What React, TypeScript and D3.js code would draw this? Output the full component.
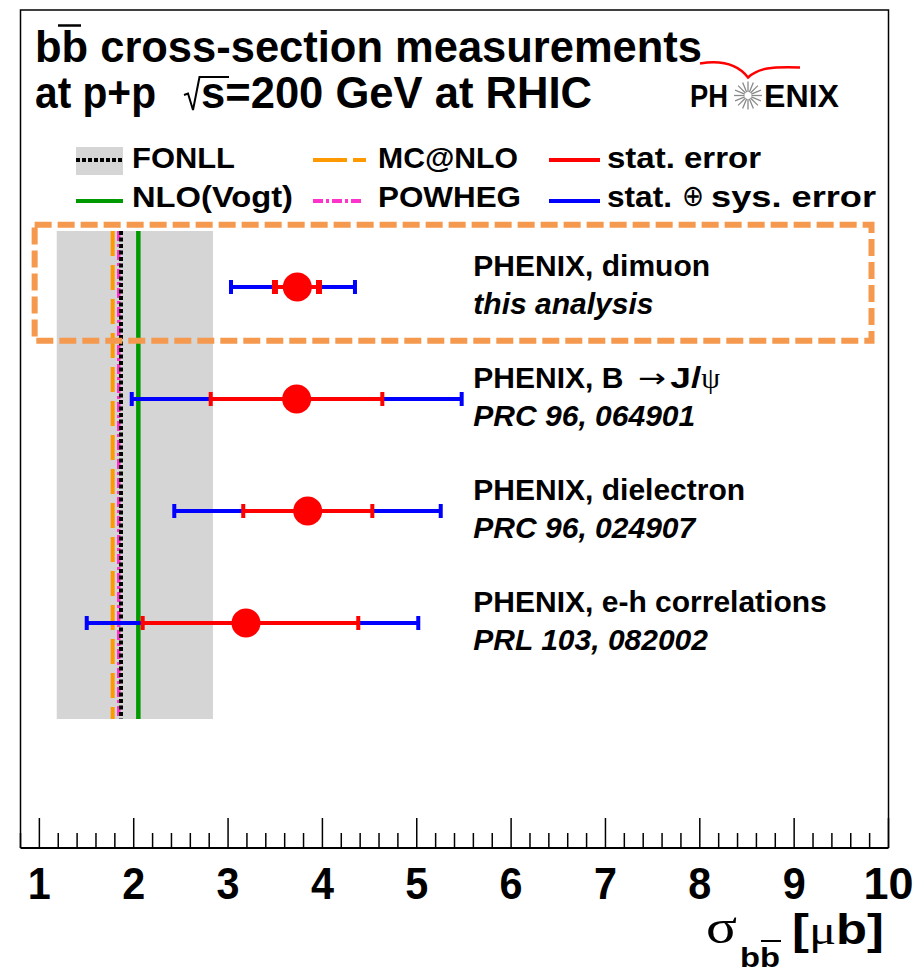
import React from "react";
import * as d3 from "d3";

// ---------- data ----------
const measLabels = ["PHENIX, dimuon", "PHENIX, B → J/ψ", "PHENIX, dielectron", "PHENIX, e-h correlations"];
const measRefs = ["this analysis", "PRC 96, 064901", "PRC 96, 024907", "PRL 103, 082002"];
const central = [3.734, 3.727, 3.844, 3.19];
const statLo = [3.497, 2.816, 3.161, 2.095];
const statHi = [3.964, 4.635, 4.529, 4.38];
const totLo = [3.031, 1.979, 2.43, 1.502];
const totHi = [4.345, 5.476, 5.254, 5.016];

const fonllBand = [1.184, 2.84];
const fonllCentral = 1.865;
const mcatnlo = 1.777;
const powheg = 1.841;
const nloVogt = 2.049;

const xTickValues = d3.range(4, 51).map((i) => i / 5);
const xMajorLabels = ["1", "2", "3", "4", "5", "6", "7", "8", "9", "10"];

// ---------- layout ----------
const W = 923;
const H = 973;
const frame = { left: 20.5, right: 888.5, top: 10, bottom: 848 };
const x = d3.scaleLinear().domain([0.8, 10]).range([frame.left, frame.right]);
const y = d3.scaleLinear().domain([0, 3]).range([287, 623]);
const bandRows = [-0.5, 3.857];
const boxRows = [-0.555, 0.48];
const boxX = [0.95, 9.82];

const SANS = "'Liberation Sans', Arial, Helvetica, sans-serif";
const SERIF = "'Liberation Serif', 'DejaVu Serif', 'Times New Roman', serif";
const SYM = "'DejaVu Sans', 'Liberation Sans', sans-serif";

const RED = "#ff0000";
const BLUE = "#0000ff";
const ORANGE = "#ff9900";
const MAGENTA = "#ff33cc";
const GREEN = "#009900";
const GRAY = "#d5d5d5";
const BOXC = "#f4994d";

function ErrorBar({ i }: { i: number }) {
  const cy = y(i);
  const capH = 14;
  const redCapW = i === 0 ? 6 : 4;
  return (
    <g>
      <line x1={x(totLo[i])} x2={x(totHi[i])} y1={cy} y2={cy} stroke={BLUE} strokeWidth={4} />
      <rect x={x(totLo[i]) - 2} y={cy - capH / 2} width={4} height={capH} fill={BLUE} />
      <rect x={x(totHi[i]) - 2} y={cy - capH / 2} width={4} height={capH} fill={BLUE} />
      <line x1={x(statLo[i])} x2={x(statHi[i])} y1={cy} y2={cy} stroke={RED} strokeWidth={4} />
      <rect x={x(statLo[i]) - redCapW / 2} y={cy - capH / 2} width={redCapW} height={capH} fill={RED} />
      <rect x={x(statHi[i]) - redCapW / 2} y={cy - capH / 2} width={redCapW} height={capH} fill={RED} />
      <circle cx={x(central[i])} cy={cy} r={14.5} fill={RED} />
    </g>
  );
}

function Label({ i }: { i: number }) {
  const lx = x(5.6);
  const cy = y(i);
  const first =
    i === 1 ? (
      <g fontFamily={SANS} fontWeight="bold" fontSize={30} fill="#000">
        <text x={lx} y={cy - 11}>PHENIX, B</text>
        <text x={lx + 165} y={cy - 12} fontFamily={SYM} fontWeight="normal" fontSize={26} textLength={28} lengthAdjust="spacingAndGlyphs">→</text>
        <text x={lx + 197} y={cy - 11} textLength={31} lengthAdjust="spacingAndGlyphs">J/</text>
        <text x={lx + 228} y={cy - 11} fontFamily={SERIF} fontWeight="normal" fontSize={30}>ψ</text>
      </g>
    ) : (
      <text x={lx} y={cy - 11} fontFamily={SANS} fontWeight="bold" fontSize={30} fill="#000">
        {measLabels[i]}
      </text>
    );
  return (
    <g>
      {first}
      <text x={lx} y={cy + 27} fontFamily={SANS} fontWeight="bold" fontStyle="italic" fontSize={30} fill="#000">
        {measRefs[i]}
      </text>
    </g>
  );
}

function Logo() {
  const cx = 748;
  const cy = 95.5;
  const rays = d3.range(16).map((k) => (k * Math.PI) / 8);
  return (
    <g>
      <path d="M700,63.5 C718,60.5 736,62 748,77.5 C758,68 772,66.5 800,67.5" fill="none" stroke={RED} strokeWidth={2.5} />
      <text x={690} y={107} fontFamily={SANS} fontWeight="bold" fontSize={32} textLength={38} lengthAdjust="spacingAndGlyphs">PH</text>
      <text x={764} y={107} fontFamily={SANS} fontWeight="bold" fontSize={32} textLength={75} lengthAdjust="spacingAndGlyphs">ENIX</text>
      {rays.map((a, k) => (
        <line key={k} x1={cx + 3.5 * Math.cos(a)} y1={cy + 3.5 * Math.sin(a)} x2={cx + 14 * Math.cos(a)} y2={cy + 14 * Math.sin(a)} stroke="#8a8a8a" strokeWidth={1.3} />
      ))}
    </g>
  );
}

export default function App() {
  const majorTicks = xTickValues.filter((v) => Math.abs(v - Math.round(v)) < 1e-9);
  return (
    <svg width={W} height={H} style={{ position: "absolute", left: 0, top: 0, background: "#fff" }}>
      <rect x={0} y={0} width={W} height={H} fill="#fff" />

      {/* theory band and lines */}
      <rect x={x(fonllBand[0])} y={y(bandRows[0])} width={x(fonllBand[1]) - x(fonllBand[0])} height={y(bandRows[1]) - y(bandRows[0])} fill={GRAY} />
      <line x1={x(mcatnlo)} x2={x(mcatnlo)} y1={y(bandRows[0])} y2={y(bandRows[1])} stroke={ORANGE} strokeWidth={4} strokeDasharray="25,9" />
      <line x1={x(powheg)} x2={x(powheg)} y1={y(bandRows[0])} y2={y(bandRows[1])} stroke={MAGENTA} strokeWidth={3.5} strokeDasharray="10,3,3,3" />
      <line x1={x(fonllCentral)} x2={x(fonllCentral)} y1={y(bandRows[0])} y2={y(bandRows[1])} stroke="#000" strokeWidth={4} strokeDasharray="4,2.5" />
      <line x1={x(nloVogt)} x2={x(nloVogt)} y1={y(bandRows[0])} y2={y(bandRows[1])} stroke={GREEN} strokeWidth={4.5} />

      {/* highlight box */}
      <rect x={x(boxX[0])} y={y(boxRows[0])} width={x(boxX[1]) - x(boxX[0])} height={y(boxRows[1]) - y(boxRows[0])} fill="none" stroke={BOXC} strokeWidth={6} strokeDasharray="17,6" />

      {/* measurements */}
      {central.map((_, i) => (
        <ErrorBar key={i} i={i} />
      ))}
      {central.map((_, i) => (
        <Label key={i} i={i} />
      ))}

      {/* title */}
      <g fontFamily={SANS} fontWeight="bold" fontSize={45}>
        <text x={35} y={62} textLength={667} lengthAdjust="spacingAndGlyphs">bb cross-section measurements</text>
        <text x={35} y={108} textLength={121} lengthAdjust="spacingAndGlyphs">at p+p</text>
        <text x={201} y={108} textLength={391} lengthAdjust="spacingAndGlyphs">s=200 GeV at RHIC</text>
      </g>
      <line x1={58} x2={81} y1={25.5} y2={25.5} stroke="#000" strokeWidth={2.5} />
      <path d="M184,95 L188,93.5 L193,110 L199.5,77 L229,77" fill="none" stroke="#000" strokeWidth={2} />

      <Logo />

      {/* legend */}
      <rect x={76} y={147} width={47} height={28} fill={GRAY} />
      <line x1={76} x2={123} y1={160} y2={160} stroke="#000" strokeWidth={4} strokeDasharray="4,2" />
      <text x={132} y={168} fontFamily={SANS} fontWeight="bold" fontSize={30} textLength={103} lengthAdjust="spacingAndGlyphs">FONLL</text>
      <line x1={76} x2={123} y1={201} y2={201} stroke={GREEN} strokeWidth={4} />
      <text x={132} y={207} fontFamily={SANS} fontWeight="bold" fontSize={30} textLength={161} lengthAdjust="spacingAndGlyphs">NLO(Vogt)</text>

      <line x1={313} x2={366} y1={160} y2={160} stroke={ORANGE} strokeWidth={4} strokeDasharray="34,6" />
      <text x={378} y={168} fontFamily={SANS} fontWeight="bold" fontSize={30} textLength={140} lengthAdjust="spacingAndGlyphs">MC@NLO</text>
      <line x1={313} x2={363} y1={201} y2={201} stroke={MAGENTA} strokeWidth={4} strokeDasharray="10,3,3,3" />
      <text x={378} y={207} fontFamily={SANS} fontWeight="bold" fontSize={30} textLength={143} lengthAdjust="spacingAndGlyphs">POWHEG</text>

      <line x1={549} x2={600} y1={160} y2={160} stroke={RED} strokeWidth={4} />
      <text x={607} y={168} fontFamily={SANS} fontWeight="bold" fontSize={30} textLength={154} lengthAdjust="spacingAndGlyphs">stat. error</text>
      <line x1={549} x2={600} y1={201} y2={201} stroke={BLUE} strokeWidth={4} />
      <text x={607} y={207} fontFamily={SANS} fontWeight="bold" fontSize={30} textLength={65} lengthAdjust="spacingAndGlyphs">stat.</text>
      <text x={682} y={206} fontFamily={SYM} fontWeight="normal" fontSize={30} textLength={22} lengthAdjust="spacingAndGlyphs">⊕</text>
      <text x={711} y={207} fontFamily={SANS} fontWeight="bold" fontSize={30} textLength={165} lengthAdjust="spacingAndGlyphs">sys. error</text>

      {/* frame */}
      <path d={`M${frame.left},${frame.bottom} L${frame.left},${frame.top} L${frame.right},${frame.top} L${frame.right},${frame.bottom}`} fill="none" stroke="#000" strokeWidth={1.5} />
      <line x1={frame.left} x2={frame.right} y1={frame.bottom} y2={frame.bottom} stroke="#000" strokeWidth={2} />

      {/* axis ticks */}
      {xTickValues.map((v, k) => {
        const major = Math.abs(v - Math.round(v)) < 1e-9;
        return <line key={k} x1={x(v)} x2={x(v)} y1={frame.bottom} y2={frame.bottom - (major ? 30 : 15)} stroke="#000" strokeWidth={1.5} />;
      })}
      {majorTicks.map((v, k) => (
        <text key={k} x={x(v)} y={899} textAnchor="middle" fontFamily={SANS} fontWeight="bold" fontSize={44} textLength={xMajorLabels[k].length > 1 ? 50 : 23} lengthAdjust="spacingAndGlyphs">
          {xMajorLabels[k]}
        </text>
      ))}

      {/* axis title */}
      <text x={706} y={943} fontFamily={SERIF} fontSize={48} textLength={31} lengthAdjust="spacingAndGlyphs">σ</text>
      <text x={740} y={967} fontFamily={SANS} fontWeight="bold" fontSize={28} textLength={40} lengthAdjust="spacingAndGlyphs">bb</text>
      <line x1={761} x2={781} y1={941} y2={941} stroke="#000" strokeWidth={2} />
      <text x={792} y={944} fontFamily={SANS} fontWeight="bold" fontSize={43} textLength={92} lengthAdjust="spacingAndGlyphs">
        <tspan>[</tspan>
        <tspan fontFamily={SERIF} fontWeight="normal">μ</tspan>
        <tspan>b]</tspan>
      </text>
    </svg>
  );
}
